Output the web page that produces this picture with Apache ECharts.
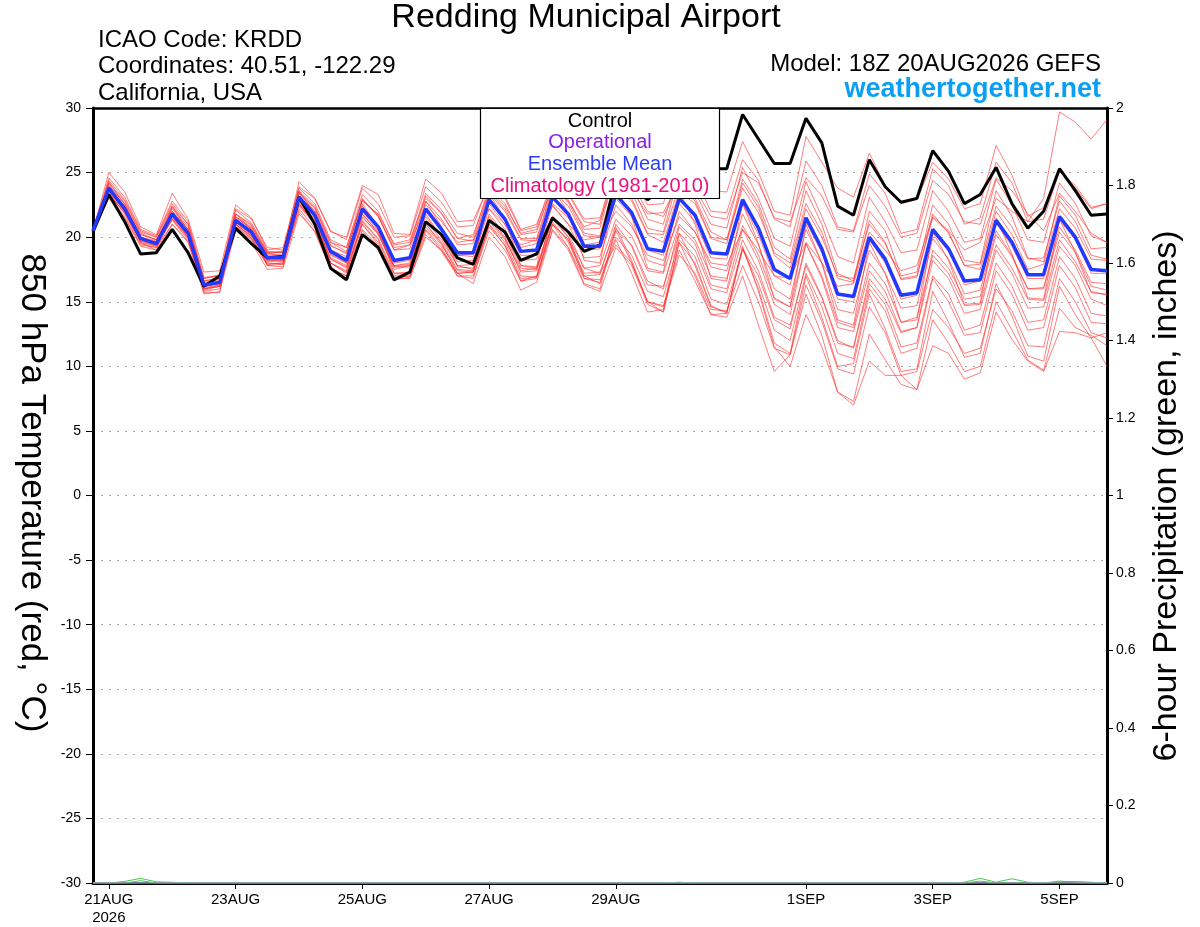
<!DOCTYPE html>
<html><head><meta charset="utf-8">
<script src="https://cdn.jsdelivr.net/npm/echarts@6/dist/echarts.min.js"></script>
<style>html,body{margin:0;padding:0;background:#fff}#c{width:1200px;height:927px}</style>
</head><body><div id="c"></div>
<script>
// ---- data (6-hourly, 20AUG2026 18Z .. 05SEP2026 18Z) ----
const control = [20.4, 23.3,21.2,18.7,18.8, 20.6,18.8,16.2,17.0, 20.7,19.5,18.4,18.5, 23.1,21.0,17.6,16.7, 20.2,19.2,16.7,17.3, 21.2,20.2,18.4,17.9, 21.3,20.4,18.2,18.7, 21.5,20.4,18.9,19.4, 24.5,24.0,22.9,23.8, 26.8,25.6,25.3,25.3, 29.5,27.6,25.7,25.7, 29.2,27.3,22.4,21.7, 26.0,23.9,22.7,23.0, 26.7,25.1,22.6,23.3, 25.4,22.6,20.7,22.0, 25.3,23.6,21.7,21.8];
const ensMean = [20.5, 23.8,22.2,19.9,19.5, 21.8,20.3,16.3,16.5, 21.3,20.4,18.4,18.4, 23.1,21.7,18.9,18.2, 22.2,20.8,18.2,18.4, 22.2,20.6,18.8,18.8, 22.9,21.4,18.9,19.0, 23.1,21.8,19.3,19.3, 23.3,21.9,19.1,18.9, 23.0,21.7,18.8,18.7, 22.9,20.7,17.5,16.8, 21.5,19.1,15.6,15.4, 20.0,18.3,15.5,15.7, 20.6,19.1,16.6,16.7, 21.3,19.6,17.1,17.1, 21.6,20.0,17.5,17.4];
const member01 = [20.5, 24.6,23.1,20.6,20.1, 22.8,21.2,16.9,17.0, 22.1,21.1,18.9,18.8, 24.3,23.0,20.5,19.8, 23.8,22.6,20.0,20.1, 23.9,22.7,20.8,20.9, 24.2,23.0,20.5,20.8, 24.5,23.3,21.2,21.0, 26.0,24.8,22.5,22.6, 26.8,25.5,23.6,23.5, 27.4,25.0,22.0,21.7, 27.8,25.8,23.8,23.1, 26.5,24.0,22.6,22.9, 25.8,24.5,22.2,22.6, 27.1,24.8,21.6,22.3, 25.1,23.8,22.2,22.6];
const member02 = [20.6, 24.2,22.8,20.3,19.8, 22.3,20.8,16.6,16.9, 21.8,20.9,18.7,18.9, 23.8,22.6,19.8,19.2, 23.3,22.0,19.4,19.6, 23.4,22.1,20.3,20.0, 23.9,22.6,20.2,20.4, 24.0,22.9,20.6,20.7, 25.2,24.0,21.4,21.0, 25.5,24.6,22.0,21.9, 26.0,24.4,21.4,20.8, 25.9,24.0,20.8,20.5, 24.9,23.4,20.3,20.6, 25.3,24.0,21.0,21.5, 25.8,24.2,21.2,21.4, 25.1,24.0,22.3,22.6];
const member03 = [20.4, 23.6,22.4,20.2,19.8, 22.0,20.6,16.8,17.1, 21.6,20.6,18.6,18.6, 23.4,22.3,19.6,18.9, 22.8,21.8,19.5,19.8, 23.0,21.9,19.9,19.7, 23.5,22.2,19.9,19.9, 23.8,22.7,20.3,20.1, 24.6,23.5,20.7,20.4, 24.8,23.5,21.0,20.7, 25.4,23.0,19.9,19.3, 24.3,21.6,18.5,18.0, 23.1,21.2,18.8,19.0, 23.6,22.0,19.6,19.9, 24.5,22.5,19.8,19.6, 24.2,22.6,20.1,19.6];
const member04 = [20.5, 25.0,23.5,20.8,20.2, 23.4,21.4,17.3,17.4, 22.5,21.5,19.0,19.2, 23.9,23.0,20.4,20.0, 24.0,23.3,20.3,20.2, 24.5,23.4,21.2,21.3, 24.0,23.2,20.6,21.0, 24.0,23.4,21.4,21.5, 25.5,24.2,22.0,21.6, 24.2,23.0,20.4,19.8, 24.5,22.6,19.2,18.3, 23.6,21.0,17.2,16.6, 22.0,20.5,17.0,17.3, 22.5,21.0,18.2,18.0, 23.6,21.6,18.4,18.1, 23.2,21.7,19.1,19.2];
const member05 = [20.5, 23.9,22.0,19.7,19.4, 21.9,20.4,16.0,16.3, 21.0,20.1,18.2,18.2, 23.2,22.0,19.3,18.8, 22.9,21.7,19.0,19.1, 22.8,21.4,19.4,19.5, 23.4,22.0,19.8,19.7, 23.6,22.4,20.1,20.0, 24.2,23.0,20.3,20.2, 23.9,22.8,20.0,19.8, 23.8,21.9,18.8,18.0, 22.6,20.4,16.8,16.5, 21.3,19.6,16.7,16.9, 21.8,20.3,17.8,17.9, 22.4,20.8,18.3,18.4, 22.8,21.2,18.6,18.3];
const member06 = [20.4, 23.4,21.8,19.5,19.2, 21.4,19.9,15.8,16.0, 20.8,19.9,17.9,18.0, 22.5,21.2,18.3,17.7, 21.5,20.3,17.8,17.9, 22.0,20.5,18.6,18.5, 23.0,21.4,19.2,19.5, 22.6,21.5,19.4,19.6, 23.9,22.8,20.2,19.6, 23.5,22.6,19.9,19.5, 24.2,22.3,18.6,17.6, 22.2,20.0,17.0,16.8, 21.0,19.5,16.8,17.0, 21.5,20.4,17.8,17.5, 22.0,20.2,17.5,17.9, 22.2,20.7,18.3,18.2];
const member07 = [20.6, 23.7,22.3,20.0,19.7, 21.6,20.2,16.4,16.4, 21.4,20.5,18.5,18.3, 23.0,21.5,18.8,18.3, 22.4,20.9,18.0,18.2, 22.0,20.6,18.6,18.7, 22.6,21.0,18.6,18.6, 23.0,21.6,19.0,19.1, 23.0,21.6,19.0,18.6, 22.6,21.2,18.4,18.3, 22.6,20.2,17.0,16.3, 21.2,18.8,15.2,15.0, 19.8,18.0,15.2,15.5, 20.4,18.9,16.3,16.6, 21.1,19.3,16.8,16.8, 21.3,19.8,17.2,17.2];
const member08 = [20.5, 23.5,22.0,19.8,19.4, 21.5,20.1,16.1,16.3, 21.1,20.2,18.2,18.2, 22.7,21.3,18.4,17.8, 21.8,20.3,17.5,17.8, 21.6,20.0,18.1,18.2, 22.2,20.6,18.2,18.3, 22.5,21.0,18.4,18.5, 22.5,21.0,18.2,17.8, 22.0,20.4,17.7,17.4, 21.8,19.4,16.0,15.2, 20.6,18.0,14.4,14.1, 19.0,17.2,14.5,14.7, 19.9,18.3,15.6,15.9, 20.5,18.6,16.0,16.1, 20.8,19.0,16.5,16.4];
const member09 = [20.4, 24.3,22.5,19.6,19.0, 22.4,20.5,15.7,15.7, 21.8,20.6,17.8,17.7, 23.6,21.8,18.0,17.4, 22.6,20.8,17.2,17.3, 22.8,20.8,17.7,17.6, 23.4,21.4,17.8,17.7, 23.8,21.9,18.2,18.0, 23.8,21.6,17.6,17.3, 23.6,21.0,16.8,16.6, 22.6,19.5,15.2,14.6, 21.0,18.0,13.6,13.2, 19.6,17.2,13.4,13.6, 20.4,18.2,14.8,14.9, 21.5,18.7,15.3,15.2, 21.4,18.8,15.7,15.6];
const member10 = [20.5, 23.2,21.6,19.4,19.2, 21.0,19.7,15.9,16.2, 20.6,19.8,17.8,17.9, 22.2,20.7,17.6,17.0, 21.0,19.6,16.9,17.0, 20.8,19.4,17.4,17.3, 21.4,19.9,17.3,17.4, 21.6,20.3,17.6,17.8, 21.4,20.1,17.4,17.2, 21.0,19.8,17.0,16.8, 20.9,18.6,15.3,14.6, 19.5,17.0,13.4,13.0, 18.0,16.4,13.4,13.8, 18.6,17.2,14.7,14.8, 19.4,17.6,15.2,15.1, 19.8,18.1,15.8,15.5];
const member11 = [20.5, 23.6,22.0,19.9,19.6, 21.3,19.8,16.0,16.2, 20.9,19.9,18.0,17.9, 22.6,21.0,18.0,17.2, 21.2,19.8,17.0,17.2, 20.6,19.2,17.0,16.8, 21.0,19.6,17.0,16.9, 21.0,19.8,17.2,17.3, 20.6,19.4,16.6,16.0, 20.8,19.5,16.3,16.0, 20.6,18.2,14.8,14.0, 19.5,16.8,13.0,12.7, 17.4,15.8,12.7,13.0, 18.2,16.8,14.1,14.4, 19.0,17.2,14.5,14.6, 19.3,17.8,15.2,14.7];
const member12 = [20.6, 23.9,22.4,20.2,19.8, 22.0,20.6,16.5,16.7, 21.5,20.7,18.7,18.6, 22.4,21.0,18.3,17.6, 21.0,19.4,16.8,17.0, 20.5,19.0,17.2,17.3, 20.8,19.4,16.6,17.0, 21.2,19.6,17.0,17.1, 21.0,19.3,16.3,16.2, 20.3,19.0,16.0,15.7, 19.8,17.4,13.8,13.2, 17.8,15.3,11.8,11.5, 16.8,15.2,12.6,13.0, 19.0,17.6,15.2,15.4, 20.2,18.5,16.0,16.0, 20.4,18.8,16.2,15.9];
const member13 = [20.5, 23.3,21.9,19.6,19.3, 21.6,20.0,16.2,16.4, 21.0,20.1,18.1,18.1, 22.0,20.4,17.5,16.8, 20.6,19.3,16.7,16.9, 20.2,18.9,17.0,17.0, 20.5,19.0,16.6,16.8, 20.6,19.2,16.8,16.7, 20.0,18.6,15.8,15.4, 19.8,18.5,15.2,14.8, 19.1,17.0,13.6,12.9, 18.0,15.4,12.0,11.4, 16.4,14.8,11.5,11.8, 17.0,15.6,12.8,13.2, 18.0,16.2,13.4,13.6, 18.5,16.8,14.1,13.9];
const member14 = [20.4, 23.0,21.5,19.3,19.0, 21.0,19.6,15.6,15.8, 20.5,19.6,17.5,17.6, 21.8,20.5,17.5,17.0, 20.5,19.0,16.8,16.8, 20.0,19.0,17.2,16.4, 20.0,18.5,15.9,16.5, 20.5,19.0,16.3,15.8, 19.2,17.8,14.8,14.2, 19.6,18.0,14.7,14.1, 19.1,16.4,12.8,12.0, 17.2,14.6,11.0,10.6, 16.0,14.3,11.0,11.4, 16.8,15.0,12.4,12.6, 17.4,15.6,12.8,13.0, 17.8,16.1,13.4,13.3];
const member15 = [20.6, 24.0,22.6,20.4,20.0, 22.4,21.0,16.8,17.0, 21.8,21.0,18.8,18.9, 23.4,22.0,19.0,18.5, 21.8,20.4,17.7,17.8, 21.0,19.6,17.5,17.4, 21.2,19.8,17.4,17.6, 21.4,20.0,17.6,17.2, 19.4,18.0,15.0,14.6, 18.6,17.2,14.4,14.3, 17.8,15.0,11.4,10.9, 16.3,13.5,9.8,9.4, 14.6,12.6,9.3,9.6, 14.4,13.0,11.0,11.4, 16.0,14.3,11.6,11.5, 16.8,15.0,12.6,12.2];
const member16 = [20.5, 23.4,21.9,19.8,19.4, 21.7,20.2,16.3,16.5, 21.2,20.2,18.3,18.5, 22.8,21.4,18.6,18.0, 21.6,20.2,17.7,17.7, 21.2,19.8,17.8,17.9, 21.6,20.0,17.6,17.5, 21.0,19.8,16.8,16.5, 19.8,17.2,14.2,14.4, 20.3,17.8,14.6,14.2, 19.1,16.0,11.8,11.0, 17.0,13.8,10.0,10.2, 15.6,12.9,9.6,9.8, 15.8,13.4,10.7,11.0, 16.4,13.9,10.8,10.4, 16.2,14.0,12.2,12.6];
const member17 = [20.4, 23.6,22.1,19.9,19.5, 21.9,20.3,16.2,16.4, 21.2,20.3,18.3,18.3, 22.9,21.6,18.7,18.0, 22.0,20.5,17.8,18.0, 21.8,20.0,17.8,17.5, 21.8,20.2,17.8,17.6, 21.6,20.0,17.0,16.4, 20.5,18.0,15.0,14.2, 19.6,17.0,14.0,14.1, 19.3,15.8,11.5,10.0, 14.0,11.5,8.0,7.3, 12.5,10.5,8.6,8.2, 13.6,11.8,9.6,10.0, 15.0,12.8,10.5,9.7, 14.5,13.0,12.4,11.6];
const member18 = [20.5, 23.8,22.1,19.7,19.3, 21.4,20.0,16.0,16.2, 21.0,20.0,17.9,18.0, 22.6,21.0,18.0,17.3, 21.3,19.9,17.2,17.2, 21.0,19.5,17.2,17.3, 21.0,19.3,16.8,16.9, 21.0,19.2,16.4,16.0, 20.8,18.2,15.0,14.7, 19.0,16.6,14.0,13.8, 17.0,13.2,9.6,10.9, 15.6,12.4,8.0,7.0, 10.4,9.3,9.3,8.2, 11.6,11.0,9.0,9.5, 14.2,12.1,10.4,9.6, 12.7,12.6,12.2,10.0];
const member19 = [20.5, 24.4,22.9,20.5,20.0, 22.6,21.0,16.6,16.8, 22.2,21.4,19.2,19.0, 23.6,22.4,19.6,19.2, 22.9,21.6,19.0,19.4, 22.5,21.2,19.6,19.8, 22.2,21.0,19.4,19.8, 22.4,21.0,19.8,20.0, 22.0,20.8,18.6,18.2, 21.6,20.4,18.0,17.8, 20.6,19.0,17.0,16.8, 19.6,18.0,16.2,16.4, 20.4,19.0,17.4,17.8, 21.6,20.5,19.0,19.6, 23.0,22.0,21.2,23.0, 29.7,28.9,27.6,29.1];
const member20 = [20.5, 24.1,22.6,20.0,19.6, 22.2,20.6,16.4,16.6, 21.6,20.8,18.8,18.8, 23.5,22.2,19.4,18.7, 23.0,21.6,19.2,19.4, 23.2,21.8,19.9,20.2, 23.6,22.4,20.3,20.6, 23.9,22.8,20.8,21.3, 24.8,23.6,21.8,21.9, 24.3,23.8,21.6,21.4, 25.0,24.2,21.5,21.2, 24.6,23.2,20.6,20.4, 24.0,22.4,20.0,20.3, 24.4,23.3,21.2,21.0, 24.6,23.6,21.8,20.5, 23.4,22.0,20.3,19.6];
const precip01 = [0,0,0.004,0.012,0.003,0.002,0,0,0,0, 0,0,0,0,0,0,0,0,0,0, 0,0,0,0,0,0,0,0,0,0, 0,0,0,0,0,0,0,0,0,0, 0,0,0,0,0,0,0,0,0,0, 0,0,0,0,0,0.002,0.012,0.002,0.011,0.002, 0,0.005,0.002,0,0];
const precip02 = [0,0,0,0.006,0,0,0,0,0,0, 0,0,0,0,0,0,0,0,0,0, 0,0,0,0,0,0,0,0,0,0, 0,0,0,0,0,0,0,0.002,0,0, 0,0,0,0,0,0,0,0,0,0, 0,0,0,0,0,0,0.005,0,0,0, 0,0.003,0.004,0.002,0];
const precipMean = [0,0,0,0,0,0,0,0,0,0, 0,0,0,0,0,0,0,0,0,0, 0,0,0,0,0,0,0,0,0,0, 0,0,0,0,0,0,0,0,0,0, 0,0,0,0,0,0,0,0,0,0, 0,0,0,0,0,0,0,0,0,0, 0,0,0,0,0];
const tickCats = ["21AUG00Z","23AUG00Z","25AUG00Z","27AUG00Z","29AUG00Z","01SEP00Z","03SEP00Z","05SEP00Z"];
const tickText = ["21AUG\n2026","23AUG","25AUG","27AUG","29AUG","1SEP","3SEP","5SEP"];
const members = [member01,member02,member03,member04,member05,member06,member07,member08,member09,member10,member11,member12,member13,member14,member15,member16,member17,member18,member19,member20];

// categories: 6-hourly time stamps
const MON = ["JAN","FEB","MAR","APR","MAY","JUN","JUL","AUG","SEP","OCT","NOV","DEC"];
const categories = [];
const t0 = Date.UTC(2026,7,20,18);
for (let i = 0; i < control.length; i++) {
  const d = new Date(t0 + i*6*3600*1000);
  categories.push(String(d.getUTCDate()).padStart(2,'0') + MON[d.getUTCMonth()] + String(d.getUTCHours()).padStart(2,'0') + 'Z');
}

const FONT = '"Liberation Sans", Arial, Helvetica, sans-serif';
const chart = echarts.init(document.getElementById('c'), null, {renderer:'canvas'});

const series = [];
members.forEach((m, k) => series.push({
  type:'line', name:'member'+(k+1), data:m, symbol:'none', silent:true, z:2,
  lineStyle:{color:'rgba(255,45,45,0.78)', width:0.8}
}));
series.push({type:'line', name:'precip1', yAxisIndex:1, data:precip01, symbol:'none', z:2, lineStyle:{color:'#44cc44', width:1}});
series.push({type:'line', name:'precip2', yAxisIndex:1, data:precip02, symbol:'none', z:2, lineStyle:{color:'#44cc44', width:1}});
series.push({type:'line', name:'precipMean', yAxisIndex:1, data:precipMean, symbol:'none', z:3, lineStyle:{color:'#9ea8cc', width:1.5}});
series.push({type:'line', name:'Control', data:control, symbol:'none', z:4, lineStyle:{color:'#000', width:3}});
series.push({type:'line', name:'Ensemble Mean', data:ensMean, symbol:'none', z:5, lineStyle:{color:'#2338ff', width:3.5}});

const txt = (x, y, text, size, opts) => Object.assign({
  type:'text', x:x, y:y, z:100,
  style:Object.assign({text:text, font: size+'px '+FONT, fill:'#000', textAlign:'left', verticalAlign:'middle'}, opts||{})
});

chart.setOption({
  animation:false,
  backgroundColor:'#fff',
  grid:{left:93, right:93, top:108, bottom:44, containLabel:false, outerBoundsMode:'none'},
  xAxis:[{
    type:'category', data:categories, boundaryGap:false, position:'bottom',
    axisLine:{show:true, onZero:false, lineStyle:{color:'#000', width:3}},
    axisTick:{show:true, length:6, inside:false, lineStyle:{color:'#000', width:1},
      interval:(idx, val) => tickCats.includes(val)},
    axisLabel:{show:true, color:'#000', fontSize:15, fontFamily:FONT, margin:8, lineHeight:18,
      interval:(idx, val) => tickCats.includes(val),
      formatter:(val) => { const j = tickCats.indexOf(val); return j >= 0 ? tickText[j] : ''; }},
    splitLine:{show:false}
  },{
    type:'category', data:categories, boundaryGap:false, position:'top',
    axisLine:{show:true, onZero:false, lineStyle:{color:'#000', width:2.5}},
    axisTick:{show:false}, axisLabel:{show:false}, splitLine:{show:false}
  }],
  yAxis:[{
    type:'value', min:-30, max:30, interval:5, position:'left',
    axisLine:{show:true, onZero:false, lineStyle:{color:'#000', width:3}},
    axisTick:{show:true, length:7, inside:false, lineStyle:{color:'#000', width:1}},
    axisLabel:{color:'#000', fontSize:14, fontFamily:FONT, margin:12},
    splitLine:{show:true, lineStyle:{color:'#a8a8a8', width:1, type:[2,6]}}
  },{
    type:'value', min:0, max:2, interval:0.2, position:'right',
    axisLine:{show:true, onZero:false, lineStyle:{color:'#000', width:3}},
    axisTick:{show:true, length:6, inside:false, lineStyle:{color:'#000', width:1}},
    axisLabel:{color:'#000', fontSize:14, fontFamily:FONT, margin:9},
    splitLine:{show:false}
  }],
  series:series,
  graphic:[
    txt(586, 18, 'Redding Municipal Airport', 34, {textAlign:'center'}),
    txt(98, 40, 'ICAO Code: KRDD', 24),
    txt(98, 66, 'Coordinates: 40.51, -122.29', 24),
    txt(98, 93, 'California, USA', 24),
    txt(1101, 64, 'Model: 18Z 20AUG2026 GEFS', 24, {textAlign:'right'}),
    txt(1101, 90, 'weathertogether.net', 27, {textAlign:'right', fill:'#0a9ff5', font:'bold 27px '+FONT}),
    {type:'text', x:32, y:493, rotation:-Math.PI/2, z:100,
      style:{text:'850 hPa Temperature (red, °C)', font:'35px '+FONT, fill:'#000', textAlign:'center', verticalAlign:'middle'}},
    {type:'text', x:1167, y:496, rotation:-Math.PI/2*3, z:100,
      style:{text:'6-hour Precipitation (green, inches)', font:'34px '+FONT, fill:'#000', textAlign:'center', verticalAlign:'middle'}},
    {type:'rect', z:100, shape:{x:480.5, y:108.5, width:239, height:90},
      style:{fill:'#fff', stroke:'#000', lineWidth:1.2}},
    txt(600, 121, 'Control', 20, {textAlign:'center', fill:'#000'}),
    txt(600, 142, 'Operational', 20, {textAlign:'center', fill:'#8a1ee6'}),
    txt(600, 164, 'Ensemble Mean', 20, {textAlign:'center', fill:'#2a3cff'}),
    txt(600, 186, 'Climatology (1981-2010)', 20, {textAlign:'center', fill:'#ea1280'})
  ]
});
</script></body></html>
